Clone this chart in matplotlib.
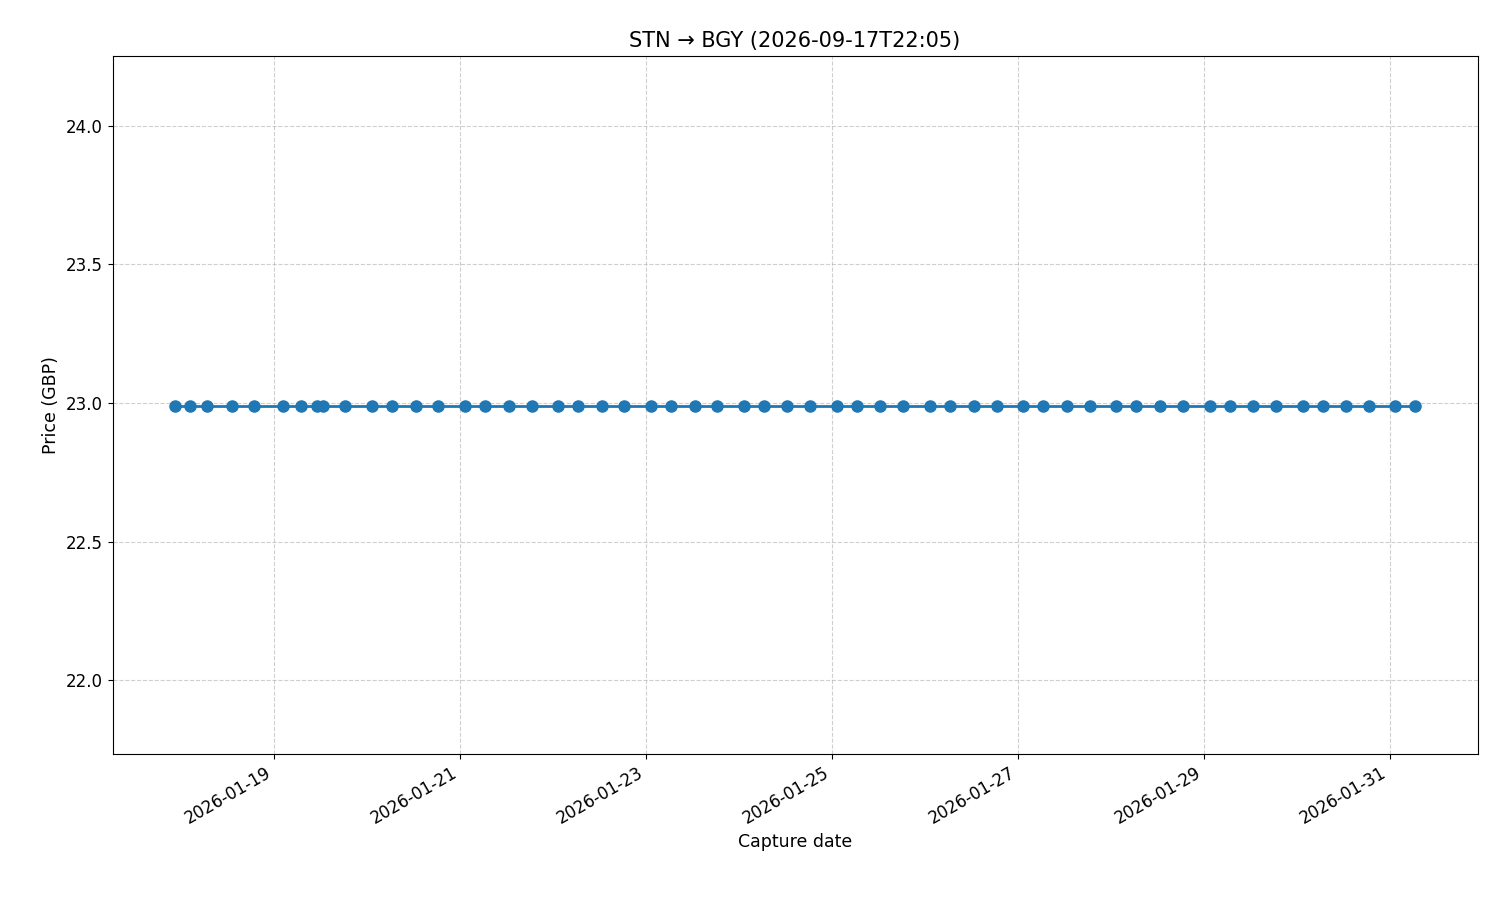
import matplotlib
matplotlib.use("Agg")
import matplotlib.pyplot as plt
import matplotlib.dates as mdates
import pandas as pd

capture_times = [
"2026-01-17 22:12","2026-01-18 02:19","2026-01-18 06:43","2026-01-18 12:55","2026-01-18 18:50",
"2026-01-19 02:19","2026-01-19 06:58","2026-01-19 11:05","2026-01-19 12:39","2026-01-19 18:19",
"2026-01-20 01:17","2026-01-20 06:27","2026-01-20 12:39","2026-01-20 18:19",
"2026-01-21 01:17","2026-01-21 06:27","2026-01-21 12:39","2026-01-21 18:35",
"2026-01-22 01:17","2026-01-22 06:27","2026-01-22 12:39","2026-01-22 18:19",
"2026-01-23 01:17","2026-01-23 06:27","2026-01-23 12:39","2026-01-23 18:19",
"2026-01-24 01:17","2026-01-24 06:27","2026-01-24 12:23","2026-01-24 18:19",
"2026-01-25 01:17","2026-01-25 06:27","2026-01-25 12:23","2026-01-25 18:19",
"2026-01-26 01:17","2026-01-26 06:27","2026-01-26 12:39","2026-01-26 18:35",
"2026-01-27 01:17","2026-01-27 06:27","2026-01-27 12:39","2026-01-27 18:35",
"2026-01-28 01:17","2026-01-28 06:27","2026-01-28 12:39","2026-01-28 18:35",
"2026-01-29 01:34","2026-01-29 06:43","2026-01-29 12:39","2026-01-29 18:35",
"2026-01-30 01:34","2026-01-30 06:43","2026-01-30 12:39","2026-01-30 18:35",
"2026-01-31 01:17","2026-01-31 06:27",
]
prices = [22.99] * len(capture_times)
tick_days = [19, 21, 23, 25, 27, 29, 31]

x = pd.to_datetime(capture_times)
fig, ax = plt.subplots(figsize=(15, 9), dpi=100)
ax.plot(x, prices, marker="o", linewidth=2, markersize=8, color="#1f77b4")
ax.set_title("STN → BGY (2026-09-17T22:05)", fontsize=15)
ax.set_xlabel("Capture date", fontsize=12.5)
ax.set_ylabel("Price (GBP)", fontsize=12.5)
ax.set_ylim(21.733, 24.253)
ax.set_yticks([22.0, 22.5, 23.0, 23.5, 24.0])
ax.set_xlim(pd.Timestamp("2026-01-17 06:11"), pd.Timestamp("2026-01-31 22:42"))
ax.xaxis.set_major_locator(mdates.DayLocator(bymonthday=tick_days))
ax.xaxis.set_major_formatter(mdates.DateFormatter("%Y-%m-%d"))
ax.tick_params(labelsize=12)
ax.grid(True, linestyle="--", alpha=0.6, color="#b0b0b0")
fig.autofmt_xdate()
fig.subplots_adjust(left=0.075, right=0.985, top=0.938, bottom=0.162)
fig.savefig("out.png")
